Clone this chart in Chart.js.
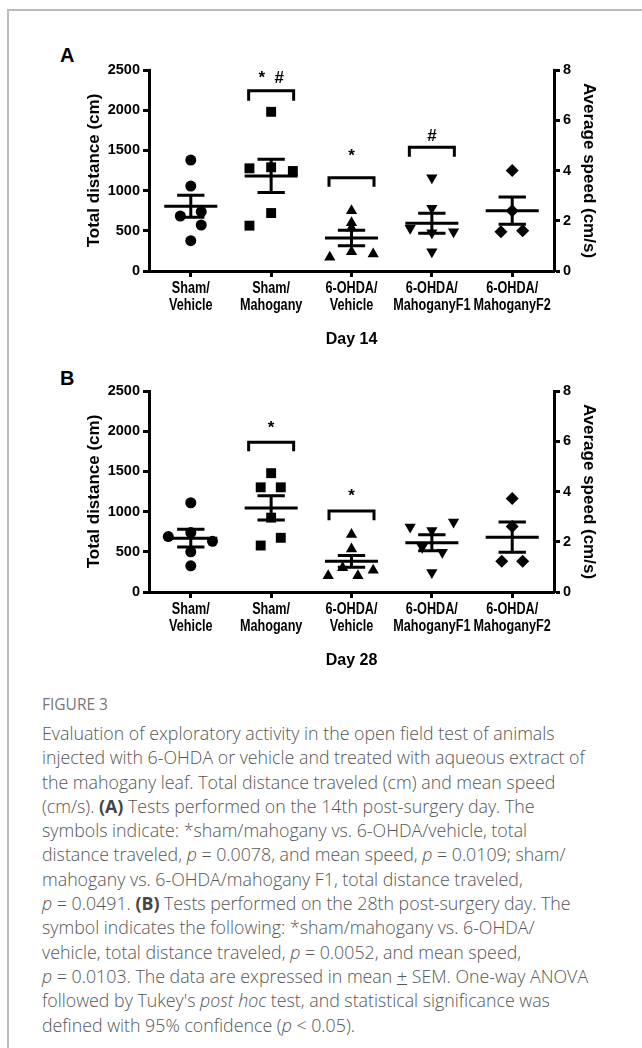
<!DOCTYPE html>
<html>
<head>
<meta charset="utf-8">
<script src="https://cdn.jsdelivr.net/npm/chart.js@4.4.1/dist/chart.umd.min.js"></script>
<style>
  body { margin: 0; width: 642px; height: 1048px; background: #fff; overflow: hidden; position: relative; }
  .frame { position: absolute; left: 7px; top: 9px; right: 0; bottom: 0; border-left: 2px solid #bbb; border-top: 2px solid #bbb; }
  .panel { position: absolute; font: bold 20px "Liberation Sans", Arial, sans-serif; color: #000; }
  canvas { position: absolute; left: 84px; }
  .fig { position: absolute; left: 42px; top: 694px; font: 15.5px "Open Sans", sans-serif; color: #777; line-height: 20px; }
  .cap { position: absolute; left: 42px; top: 721px; width: 598px; font: 300 17.8px "Open Sans", sans-serif; color: #555; line-height: 24.3px; white-space: nowrap; }
  .cap b { font-weight: 700; color: #444; }
</style>
</head>
<body>
<div class="frame"></div>
<div class="panel" style="left:60px;top:44px">A</div>
<div class="panel" style="left:60px;top:367px">B</div>
<canvas id="chartA" width="515" height="309" style="top:40px"></canvas>
<canvas id="chartB" width="515" height="309" style="top:361px"></canvas>
<div class="fig">FIGURE 3</div>
<div class="cap">
Evaluation of exploratory activity in the open field test of animals<br>
injected with 6-OHDA or vehicle and treated with aqueous extract of<br>
the mahogany leaf. Total distance traveled (cm) and mean speed<br>
(cm/s). <b>(A)</b> Tests performed on the 14th post-surgery day. The<br>
symbols indicate: *sham/mahogany vs. 6-OHDA/vehicle, total<br>
distance traveled, <i>p</i> = 0.0078, and mean speed, <i>p</i> = 0.0109; sham/<br>
mahogany vs. 6-OHDA/mahogany F1, total distance traveled,<br>
<i>p</i> = 0.0491. <b>(B)</b> Tests performed on the 28th post-surgery day. The<br>
symbol indicates the following: *sham/mahogany vs. 6-OHDA/<br>
vehicle, total distance traveled, <i>p</i> = 0.0052, and mean speed,<br>
<i>p</i> = 0.0103. The data are expressed in mean <u>+</u> SEM. One-way ANOVA<br>
followed by Tukey's <i>post hoc</i> test, and statistical significance was<br>
defined with 95% confidence (<i>p</i> &lt; 0.05).
</div>

<script>
// ====== DATA ======
const groupLabels = [["Sham/", "Vehicle"], ["Sham/", "Mahogany"], ["6-OHDA/", "Vehicle"], ["6-OHDA/", "MahoganyF1"], ["6-OHDA/", "MahoganyF2"]];
const distTicks = [0, 500, 1000, 1500, 2000, 2500];
const speedTicks = [0, 2, 4, 6, 8];

// Day 14 - total distance (cm) per animal, with horizontal spread (in groups)
const d14Values = [
  [1380, 1057, 684, 738, 572, 377],
  [1980, 1277, 1290, 1244, 721, 564],
  [750, 601, 535, 170, 240, 211],
  [1160, 780, 531, 476, 489, 240],
  [1250, 750, 489, 501]
];
const d14Spread = [
  [0, 0, -0.13, 0.13, 0.13, 0],
  [0, -0.27, 0, 0.27, 0, -0.27],
  [0, 0, 0, -0.27, 0, 0.27],
  [0, 0, -0.27, 0, 0.27, 0],
  [0, 0, -0.14, 0.13]
];
const d14Mean = [805, 1182, 410, 593, 750];
const d14Sem = [137, 207, 97, 125, 170];

// Day 28
const d28Values = [
  [1110, 690, 740, 630, 500, 325],
  [1478, 1302, 1302, 925, 674, 578],
  [716, 536, 301, 201, 201, 272],
  [808, 766, 870, 556, 494, 242],
  [1164, 816, 381, 381]
];
const d28Spread = [
  [0, -0.28, 0, 0.27, 0, 0],
  [0, -0.13, 0.12, 0, 0.12, -0.13],
  [0, 0, -0.11, -0.29, 0.08, 0.27],
  [-0.27, 0, 0.27, -0.12, 0.13, 0],
  [0, 0, -0.13, 0.13]
];
const d28Mean = [670, 1046, 381, 612, 682];
const d28Sem = [109, 152, 74, 99, 188];

// significance brackets: group, top / bottom of bracket (cm), symbol, symbol height (cm)
const d14BracketGroup = [1, 2, 3];
const d14BracketTop = [2243, 1161, 1539];
const d14BracketBottom = [2118, 1049, 1422];
const d14BracketText = ["*  #", "*", "#"];
const d14BracketTextY = [2400, 1430, 1680];

const d28BracketGroup = [1, 2];
const d28BracketTop = [1863, 1009];
const d28BracketBottom = [1750, 892];
const d28BracketText = ["*", "*"];
const d28BracketTextY = [2040, 1185];

// ====== STYLE ======
const markers = ["circle", "rect", "triangle", "triangle", "rectRot"];
const markerRadius = [5.5, 7, 6.5, 6.5, 6.5];
const markerRotation = [0, 0, 0, 180, 0];
const MEAN_HALF = 0.33, CAP_HALF = 0.17, BRACKET_HALF = 0.28;
const FONT = '"Liberation Sans", Arial, sans-serif';

Chart.defaults.font.family = FONT;
Chart.defaults.color = "#000";

// bracket symbols
const bracketText = {
  id: "bracketText",
  afterDatasetsDraw(chart, args, opts) {
    const ctx = chart.ctx;
    ctx.save();
    ctx.fillStyle = "#000";
    ctx.font = "bold 17px " + FONT;
    ctx.textAlign = "center";
    ctx.textBaseline = "middle";
    opts.groups.forEach((g, i) => {
      ctx.fillText(opts.texts[i], chart.scales.x.getPixelForValue(g), chart.scales.y.getPixelForValue(opts.ys[i]));
    });
    ctx.restore();
  }
};

// group names under the x axis, in a narrow bold face
const groupNames = {
  id: "groupNames",
  afterDraw(chart) {
    const ctx = chart.ctx;
    const xs = chart.scales.x;
    ctx.save();
    ctx.fillStyle = "#000";
    ctx.font = "bold 16px " + FONT;
    ctx.textAlign = "center";
    ctx.textBaseline = "middle";
    groupLabels.forEach((lines, i) => {
      lines.forEach((line, k) => {
        ctx.save();
        ctx.translate(xs.getPixelForValue(i), xs.top + 18 + k * 17);
        ctx.scale(0.79, 1);
        ctx.fillText(line, 0, 0);
        ctx.restore();
      });
    });
    ctx.restore();
  }
};

function buildChart(id, values, spread, mean, sem, bGroup, bTop, bBottom, bText, bTextY, dayLabel) {
  const datasets = values.map((vals, g) => ({
    type: "scatter",
    data: vals.map((v, k) => ({ x: g + spread[g][k], y: v })),
    pointStyle: markers[g],
    pointRadius: markerRadius[g],
    pointRotation: markerRotation[g],
    backgroundColor: "#000",
    borderColor: "#000",
    borderWidth: 0
  }));

  // mean line + SEM bars
  const bars = [];
  mean.forEach((m, g) => {
    const s = sem[g];
    bars.push({ x: g - MEAN_HALF, y: m }, { x: g + MEAN_HALF, y: m }, { x: g, y: null });
    bars.push({ x: g, y: m - s }, { x: g, y: m + s }, { x: g, y: null });
    bars.push({ x: g - CAP_HALF, y: m + s }, { x: g + CAP_HALF, y: m + s }, { x: g, y: null });
    bars.push({ x: g - CAP_HALF, y: m - s }, { x: g + CAP_HALF, y: m - s }, { x: g, y: null });
  });
  datasets.push({
    type: "line", data: bars, borderColor: "#000", borderWidth: 3,
    pointRadius: 0, spanGaps: false, borderCapStyle: "butt", fill: false
  });

  // brackets
  const br = [];
  bGroup.forEach((g, i) => {
    br.push({ x: g - BRACKET_HALF, y: bBottom[i] }, { x: g - BRACKET_HALF, y: bTop[i] },
            { x: g + BRACKET_HALF, y: bTop[i] }, { x: g + BRACKET_HALF, y: bBottom[i] }, { x: g, y: null });
  });
  datasets.push({
    type: "line", data: br, borderColor: "#000", borderWidth: 3,
    pointRadius: 0, spanGaps: false, borderCapStyle: "butt", borderJoinStyle: "miter", fill: false
  });

  const axisGrid = { display: true, drawOnChartArea: false, drawTicks: true, tickLength: 6, tickWidth: 3, tickColor: "#000" };
  const axisBorder = { display: true, width: 3, color: "#000" };

  return new Chart(document.getElementById(id), {
    data: { datasets },
    options: {
      responsive: false,
      animation: false,
      layout: { padding: { top: 30, left: 0, right: 0, bottom: 0 } },
      plugins: {
        legend: { display: false },
        tooltip: { enabled: false },
        bracketText: { groups: bGroup, texts: bText, ys: bTextY }
      },
      scales: {
        x: {
          type: "linear", min: -0.52, max: 4.52,
          afterBuildTicks: s => { s.ticks = groupLabels.map((l, i) => ({ value: i })); },
          afterFit: s => { s.height = 78; },
          grid: axisGrid, border: axisBorder,
          ticks: { display: false },
          title: { display: true, text: dayLabel, font: { size: 16, weight: "bold" }, padding: 0 }
        },
        y: {
          position: "left", min: 0, max: 2500,
          afterBuildTicks: s => { s.ticks = distTicks.map(v => ({ value: v })); },
          afterFit: s => { s.width = 65; },
          grid: axisGrid, border: axisBorder,
          ticks: { padding: 3, font: { size: 14.5, weight: "bold" }, callback: v => String(v) },
          title: { display: true, text: "Total distance (cm)", font: { size: 17, weight: "bold" }, padding: 0 }
        },
        y2: {
          position: "right", min: 0, max: 8,
          afterBuildTicks: s => { s.ticks = speedTicks.map(v => ({ value: v })); },
          afterFit: s => { s.width = 45; },
          grid: axisGrid, border: axisBorder,
          ticks: { padding: 3, font: { size: 14.5, weight: "bold" }, callback: v => String(v) },
          title: { display: true, text: "Average speed (cm/s)", font: { size: 17, weight: "bold" }, padding: 0 }
        }
      }
    },
    plugins: [bracketText, groupNames]
  });
}

buildChart("chartA", d14Values, d14Spread, d14Mean, d14Sem,
  d14BracketGroup, d14BracketTop, d14BracketBottom, d14BracketText, d14BracketTextY, "Day 14");
buildChart("chartB", d28Values, d28Spread, d28Mean, d28Sem,
  d28BracketGroup, d28BracketTop, d28BracketBottom, d28BracketText, d28BracketTextY, "Day 28");
</script>
</body>
</html>
